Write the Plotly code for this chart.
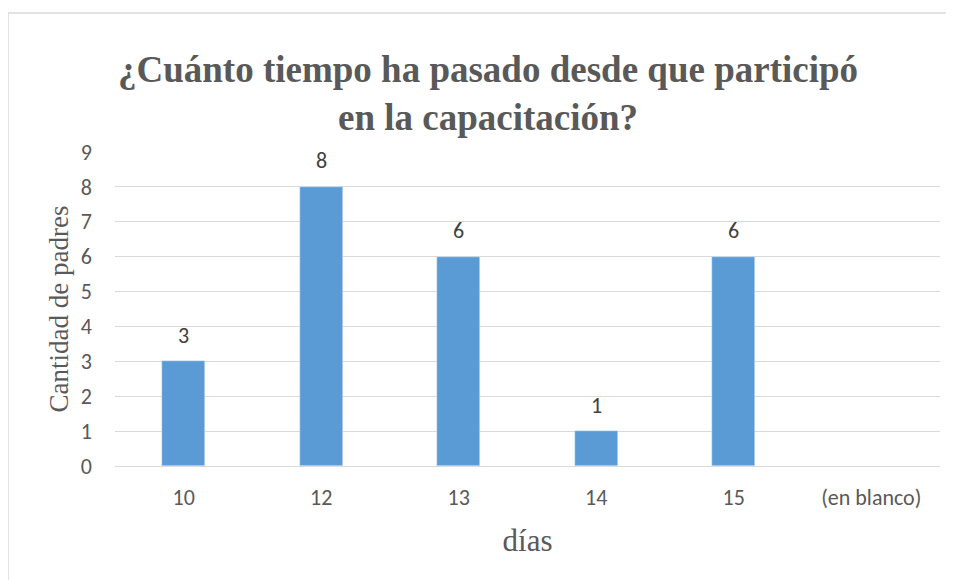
import plotly.graph_objects as go

categories = ["10", "12", "13", "14", "15", "(en blanco)"]
values = [3, 8, 6, 1, 6, None]
y_ticks = list(range(0, 10))

# page has an 8px body margin, so the figure is drawn 8px smaller
W, H = 946, 572
L, R, T, B = 107, 14, 144, 114
pw, ph = W - L - R, H - T - B

SANS = "Carlito, Calibri, Lato, sans-serif"
SERIF = "Liberation Serif, Times New Roman, serif"

fig = go.Figure(go.Bar(
    x=categories, y=values,
    marker=dict(color="#5b9bd5"), width=0.31,
))

for i, v in enumerate(values):
    if v is None:
        continue
    fig.add_annotation(x=i, y=v, text=str(v), showarrow=False, yanchor="middle",
                       yshift=26, font=dict(family=SANS, size=22, color="#404040"))

fig.update_layout(
    width=W, height=H,
    margin=dict(l=L, r=R, t=T, b=B),
    paper_bgcolor="white", plot_bgcolor="white",
    showlegend=False,
    title=dict(
        text="<b>¿Cuánto tiempo ha pasado desde que participó<br>en la capacitación?</b>",
        x=480 / W, xanchor="center", y=1 - 74 / H, yanchor="middle",
        font=dict(family=SERIF, size=37, color="#595959"),
    ),
    xaxis=dict(
        type="category", categoryorder="array", categoryarray=categories,
        range=[-0.5, len(categories) - 0.5],
        showgrid=False, showline=True, linecolor="#d9d9d9", linewidth=1,
        ticks="", tickangle=0, tickfont=dict(family=SANS, size=22, color="#595959"),
        ticklabelstandoff=12,
        title=dict(text="días", standoff=18,
                   font=dict(family=SERIF, size=31, color="#595959")),
    ),
    yaxis=dict(
        range=[0, 9], tickvals=y_ticks, showgrid=True, gridcolor="#d9d9d9", gridwidth=1,
        zeroline=False, showline=False, ticks="",
        tickfont=dict(family=SANS, size=22, color="#595959"),
        ticklabelstandoff=22,
        title=dict(text="Cantidad de padres", standoff=4,
                   font=dict(family=SERIF, size=27, color="#595959")),
    ),
    bargap=0,
)

fig.add_shape(type="rect", xref="paper", yref="paper",
              x0=(0 - L) / pw, x1=(W + 20 - L) / pw,
              y0=-(B + 20) / ph, y1=(H - B - 5) / ph,
              line=dict(color="#d9d9d9", width=1.5), fillcolor="rgba(0,0,0,0)", layer="below")

fig.write_html("out.html")
